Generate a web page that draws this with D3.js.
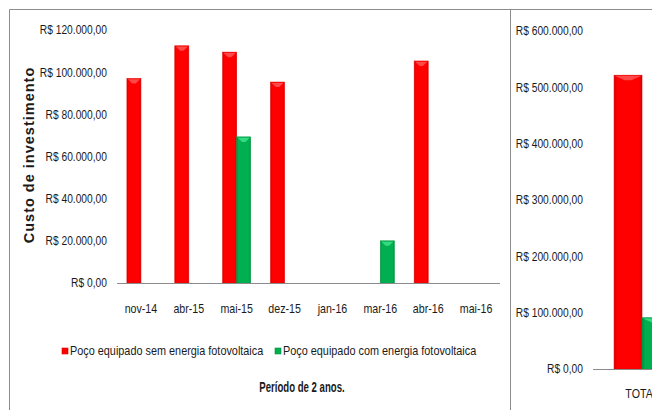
<!DOCTYPE html>
<html>
<head>
<meta charset="utf-8">
<script src="https://cdn.jsdelivr.net/npm/d3@7"></script>
<style>
  html, body { margin: 0; padding: 0; background: #fff; }
  svg { display: block; }
  text { font-family: "Liberation Sans", Arial, sans-serif; fill: #1a1a1a; }
</style>
</head>
<body>
<svg id="chart" width="652" height="410"></svg>
<script>
// Monthly investment cost per well type (R$)
const months = ["nov-14", "abr-15", "mai-15", "dez-15", "jan-16", "mar-16", "abr-16", "mai-16"];
const semFotovoltaica = [97000, 112500, 109500, 95300, 0, 0, 105300, 0];
const comFotovoltaica = [0, 0, 69300, 0, 0, 20000, 0, 0];

// Accumulated totals
const totalCategories = ["TOTAL"];
const totalSem = [521500];
const totalCom = [91000];

const seriesNames = ["Poço equipado sem energia fotovoltaica", "Poço equipado com energia fotovoltaica"];
const leftTicks = [0, 20000, 40000, 60000, 80000, 100000, 120000];
const rightTicks = [0, 100000, 200000, 300000, 400000, 500000, 600000];

const svg = d3.select("#chart");
const brl = v => "R$ " + d3.format(",.2f")(v).replace(/,/g, "#").replace(/\./g, ",").replace(/#/g, ".");

// Narrow label style: regular sans squeezed horizontally
const NARROW = 0.82;

// Bar gradients: flat body with darker rim, lighter bevel on the cap
const defs = svg.append("defs");
function bodyGradient(id, edge, mid) {
  const g = defs.append("linearGradient").attr("id", id).attr("x1", "0").attr("x2", "1").attr("y1", "0").attr("y2", "0");
  g.append("stop").attr("offset", "0").attr("stop-color", edge);
  g.append("stop").attr("offset", "0.12").attr("stop-color", mid);
  g.append("stop").attr("offset", "0.88").attr("stop-color", mid);
  g.append("stop").attr("offset", "1").attr("stop-color", edge);
}
bodyGradient("gRed", "#d40000", "#ff0000");
bodyGradient("gGreen", "#008f3e", "#00b050");
const styles = [
  { fill: "url(#gRed)", cap: "#ff5555", rim: "#e60000" },
  { fill: "url(#gGreen)", cap: "#3ee08a", rim: "#009a45" }
];

// Frame
const frame = svg.append("g").attr("stroke", "#8c8c8c").attr("stroke-width", 1).attr("fill", "none");
frame.append("line").attr("x1", 9.5).attr("x2", 652).attr("y1", 9.5).attr("y2", 9.5);
frame.append("line").attr("x1", 9.5).attr("x2", 9.5).attr("y1", 9.5).attr("y2", 410);
frame.append("line").attr("x1", 510.5).attr("x2", 510.5).attr("y1", 9.5).attr("y2", 410);

function drawBars(g, cats, values, x, y) {
  const inner = d3.scaleBand().domain([0, 1]).range([0, x.bandwidth()]);
  values.forEach((vals, si) => {
    const st = styles[si];
    const grp = g.append("g");
    cats.forEach((c, i) => {
      const v = vals[i];
      if (!v) return;
      const bx = x(c) + inner(si), bw = inner.bandwidth();
      const by = y(v), bh = y(0) - y(v);
      grp.append("rect").attr("x", bx).attr("y", by).attr("width", bw).attr("height", bh)
        .attr("fill", st.fill).attr("stroke", st.rim).attr("stroke-width", 0.6);
      const capH = Math.min(5, bh);
      grp.append("path")
        .attr("d", `M${bx + 1},${by + 0.8} L${bx + bw - 1},${by + 0.8} L${bx + bw * 0.62},${by + capH} L${bx + bw * 0.38},${by + capH} Z`)
        .attr("fill", st.cap).attr("opacity", 0.85);
    });
  });
}

function drawYAxis(g, y, ticks, xRight) {
  g.selectAll("text.ytick").data(ticks).join("text")
    .attr("class", "ytick")
    .attr("transform", d => `translate(${xRight},${y(d)}) scale(${NARROW},1)`)
    .attr("dy", "0.35em")
    .attr("text-anchor", "end").attr("font-size", 12.5)
    .text(d => brl(d));
}

// Left panel: monthly costs
const xL = d3.scaleBand().domain(months).range([117, 500]).paddingInner(0.415).paddingOuter(0.2075);
const yL = d3.scaleLinear().domain([0, 120000]).range([283, 30]);
const left = svg.append("g");
drawYAxis(left, yL, leftTicks, 107);
drawBars(left, months, [semFotovoltaica, comFotovoltaica], xL, yL);
left.append("line").attr("x1", 117).attr("x2", 500).attr("y1", yL(0) + 0.5).attr("y2", yL(0) + 0.5)
  .attr("stroke", "#8c8c8c").attr("stroke-width", 1);
left.selectAll("text.xtick").data(months).join("text")
  .attr("class", "xtick")
  .attr("transform", d => `translate(${xL(d) + xL.bandwidth() / 2},308) scale(${NARROW},1)`)
  .attr("dy", "0.35em")
  .attr("text-anchor", "middle").attr("font-size", 13)
  .text(d => d);

left.append("text")
  .attr("transform", "translate(29,155) rotate(-90)")
  .attr("text-anchor", "middle").attr("dy", "0.35em")
  .attr("font-weight", "bold").attr("font-size", 14.5).attr("fill", "#000")
  .attr("letter-spacing", 1)
  .text("Custo de investimento");

// Legend
const legendX = [62, 275];
seriesNames.forEach((name, i) => {
  const lg = left.append("g").attr("transform", `translate(${legendX[i]},351)`);
  lg.append("rect").attr("x", 0).attr("y", -3).attr("width", 6).attr("height", 6)
    .attr("fill", styles[i].fill).attr("stroke", styles[i].rim).attr("stroke-width", 0.6);
  lg.append("text").attr("transform", `translate(8,0) scale(0.87,1)`).attr("dy", "0.35em")
    .attr("font-size", 12.5).text(name);
});

left.append("text")
  .attr("transform", "translate(302,387) scale(0.64,1)").attr("dy", "0.35em")
  .attr("text-anchor", "middle").attr("font-size", 15).attr("font-weight", "bold")
  .text("Período de 2 anos.");

// Right panel: totals
const xR = d3.scaleBand().domain(totalCategories).range([593, 691]).paddingInner(0.43).paddingOuter(0.215);
const yR = d3.scaleLinear().domain([0, 600000]).range([369, 31]);
const right = svg.append("g");
drawYAxis(right, yR, rightTicks, 583);
drawBars(right, totalCategories, [totalSem, totalCom], xR, yR);
right.append("line").attr("x1", 593).attr("x2", 652).attr("y1", yR(0) + 0.5).attr("y2", yR(0) + 0.5)
  .attr("stroke", "#8c8c8c").attr("stroke-width", 1);
right.selectAll("text.xtick").data(totalCategories).join("text")
  .attr("class", "xtick")
  .attr("transform", d => `translate(${xR(d) + xR.bandwidth() / 2},393) scale(${NARROW},1)`)
  .attr("dy", "0.35em")
  .attr("text-anchor", "middle").attr("font-size", 13)
  .text(d => d);
</script>
</body>
</html>
